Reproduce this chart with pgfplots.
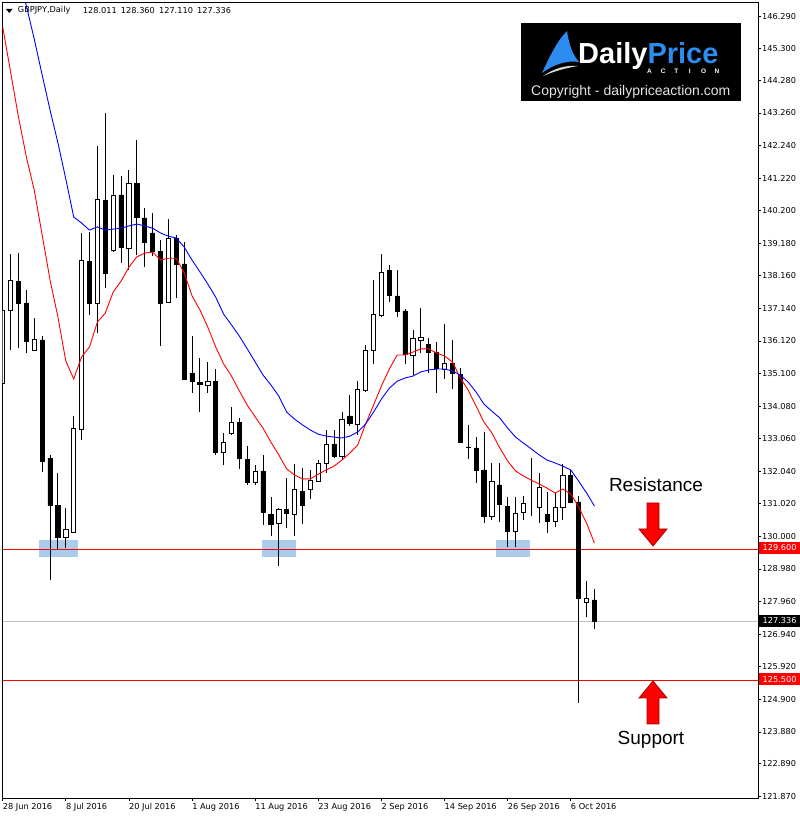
\documentclass[border=0pt]{standalone}
\usepackage{fontspec}
\setmainfont{DejaVu Sans}
\newfontfamily\lib{Liberation Sans}
\usepackage{pgfplots}
\pgfplotsset{compat=1.18}
\usepackage{pgfplotstable}

\definecolor{rectblue}{RGB}{170,204,234}
\definecolor{logoblue}{RGB}{45,140,240}
\definecolor{bidgray}{RGB}{192,192,192}
\definecolor{arrowdark}{RGB}{170,0,0}

\pgfplotstableread{
i O H L C
0 134.80 137.46 134.27 137.09
1 137.09 138.84 135.83 138.03
2 137.99 138.87 135.90 137.28
3 137.31 137.71 135.74 136.09
4 135.83 136.84 135.80 136.18
5 136.15 136.27 132.02 132.36
6 132.45 132.55 128.63 130.98
7 130.98 131.98 129.60 129.98
8 129.98 130.89 129.64 130.23
9 130.14 133.77 130.14 133.39
10 133.36 139.50 133.02 138.65
11 138.62 139.53 136.93 137.31
12 137.31 142.22 136.37 140.56
13 140.53 143.26 137.78 138.25
14 138.97 141.31 138.90 140.69
15 140.69 141.28 138.56 139.06
16 139.03 141.47 138.34 141.06
17 141.06 142.41 138.81 140.00
18 139.97 140.28 138.43 139.22
19 139.50 140.12 138.78 138.93
20 138.93 139.28 135.96 137.31
21 137.34 139.94 137.31 139.34
22 139.34 139.44 137.46 138.53
23 138.53 139.22 134.93 134.93
24 135.11 136.27 134.49 134.86
25 134.83 135.58 133.89 134.77
26 134.74 135.46 134.49 134.86
27 134.86 135.24 132.55 132.64
28 132.64 133.24 132.23 132.95
29 133.24 134.05 133.17 133.58
30 133.58 133.71 132.11 132.45
31 132.42 132.83 131.61 131.70
32 131.70 132.23 131.61 132.05
33 132.05 132.55 130.36 130.76
34 130.70 131.23 130.01 130.39
35 130.42 130.89 129.07 130.86
36 130.83 131.83 130.26 130.73
37 130.70 132.27 130.01 131.48
38 131.42 132.14 130.39 130.98
39 131.48 132.08 131.17 131.76
40 131.73 132.39 131.70 132.30
41 132.30 133.33 131.98 132.89
42 132.89 133.33 132.45 132.52
43 132.52 133.89 132.39 133.67
44 133.77 134.43 133.46 133.55
45 133.52 134.86 133.17 134.61
46 134.58 135.99 134.52 135.83
47 135.83 138.03 135.40 136.96
48 136.93 138.84 136.87 138.28
49 138.34 138.50 137.34 137.53
50 137.53 138.34 136.87 137.06
51 137.06 137.12 135.40 135.71
52 135.68 136.46 135.05 136.21
53 136.15 137.15 135.74 136.24
54 136.02 136.21 135.11 135.77
55 135.77 136.09 134.49 135.27
56 135.24 136.65 134.93 135.43
57 135.43 136.15 134.61 135.11
58 135.08 135.27 132.95 132.95
59 132.80 133.49 132.42 132.79
60 132.77 133.11 131.67 132.08
61 132.08 133.27 130.42 130.64
62 130.64 132.30 130.51 131.73
63 131.61 132.30 130.45 131.01
64 130.95 131.23 129.67 130.17
65 130.17 131.23 129.67 130.73
66 130.76 131.26 130.51 131.04
67 131.04 132.45 130.64 131.04
68 130.92 131.98 130.42 131.55
69 130.70 131.39 130.11 130.48
70 130.48 131.36 130.29 130.92
71 130.92 132.27 130.51 131.92
72 131.92 132.08 131.04 131.08
73 131.08 131.26 124.78 128.07
74 127.94 128.60 127.48 128.07
75 128.011 128.360 127.110 127.336
}\candles

\pgfplotstableread{
i R B
0 145.95 149.74
1 144.54 148.67
2 143.13 147.64
3 141.88 146.61
4 140.84 145.57
5 139.44 144.45
6 138.03 143.35
7 136.87 142.32
8 135.49 141.19
9 134.93 140.00
10 135.62 139.81
11 135.93 139.59
12 136.71 139.69
13 136.99 139.59
14 137.65 139.62
15 137.99 139.65
16 138.43 139.72
17 138.75 139.78
18 138.87 139.72
19 138.90 139.65
20 138.65 139.50
21 138.71 139.40
22 138.71 139.34
23 138.25 139.06
24 137.53 138.65
25 137.09 138.28
26 136.55 137.90
27 135.93 137.49
28 135.40 136.96
29 135.02 136.62
30 134.55 136.27
31 134.11 135.87
32 133.74 135.46
33 133.39 135.05
34 132.95 134.74
35 132.55 134.39
36 132.11 133.89
37 131.92 133.67
38 131.80 133.49
39 131.80 133.33
40 131.95 133.20
41 132.08 133.14
42 132.20 133.11
43 132.39 133.08
44 132.61 133.14
45 132.86 133.27
46 133.52 133.52
47 134.11 133.89
48 134.71 134.30
49 135.24 134.64
50 135.68 134.86
51 135.68 134.96
52 135.77 135.02
53 135.87 135.15
54 135.87 135.21
55 135.74 135.24
56 135.65 135.24
57 135.46 135.18
58 134.96 135.05
59 134.58 134.83
60 134.08 134.52
61 133.58 134.14
62 133.24 133.92
63 132.77 133.71
64 132.36 133.39
65 132.05 133.11
66 131.89 132.92
67 131.76 132.74
68 131.64 132.55
69 131.51 132.39
70 131.36 132.30
71 131.48 132.20
72 131.33 132.08
73 130.92 131.73
74 130.42 131.36
75 129.79 130.95
}\mas

\pgfplotsset{chartax/.style={scale only axis, width=755.3pt, height=795.3pt,
  xmin=0, xmax=95.73, ymin=121.81, ymax=146.71}}
\newcommand\tf{\fontsize{8.2}{9}\selectfont}

\begin{document}
\begin{tikzpicture}
\begin{axis}[chartax, name=main,
  axis line style={black, line width=0.9pt},
  xtick={0,8,...,72},
  xticklabels={28 Jun 2016, 8 Jul 2016, 20 Jul 2016, 1 Aug 2016, 11 Aug 2016, 23 Aug 2016, 2 Sep 2016, 14 Sep 2016, 26 Sep 2016, 6 Oct 2016},
  ytick={146.29,145.27,144.28,143.26,142.24,141.22,140.20,139.18,138.16,137.14,136.12,135.10,134.08,133.06,132.04,131.02,130.00,128.98,127.96,126.94,125.92,124.90,123.88,122.89,121.87},
  yticklabels={146.290,145.300,144.280,143.260,142.240,141.220,140.200,139.180,138.160,137.140,136.120,135.100,134.080,133.060,132.040,131.020,130.000,128.980,127.960,126.940,125.920,124.900,123.880,122.890,121.870},
  xtick pos=left, ytick pos=right, yticklabel pos=right,
  tick align=outside, major tick length=3pt,
  tick style={black, line width=0.7pt},
  ticklabel style={font=\tf, inner sep=0pt},
  xticklabel style={anchor=north west, yshift=-2pt},
  yticklabel style={anchor=west, xshift=1pt},
]
% support zones
\addplot[fill=rectblue, draw=none] coordinates {(4.6,129.353) (9.54,129.353) (9.54,129.886) (4.6,129.886)} -- cycle;
\addplot[fill=rectblue, draw=none] coordinates {(32.86,129.353) (37.17,129.353) (37.17,129.886) (32.86,129.886)} -- cycle;
\addplot[fill=rectblue, draw=none] coordinates {(62.52,129.353) (66.83,129.353) (66.83,129.886) (62.52,129.886)} -- cycle;
% horizontal lines
\addplot[bidgray, line width=0.8pt] coordinates {(0,127.336) (95.73,127.336)};
\addplot[red, line width=0.8pt] coordinates {(0,129.6) (95.73,129.6)};
\addplot[red, line width=0.8pt] coordinates {(0,125.5) (95.73,125.5)};
% wicks
\addplot[only marks, mark=*, mark options={draw opacity=0, fill opacity=0}, black,
  error bars/.cd, y dir=plus, y explicit, error mark=none,
  error bar style={line width=0.9pt, black}]
  table[x=i, y=L, y error expr=\thisrow{H}-\thisrow{L}] {\candles};
\end{axis}

\begin{axis}[chartax, hide axis, ybar stacked, bar width=0.53]
\addplot[draw=none, fill=none] table[x=i, y expr={min(\thisrow{O},\thisrow{C})}] {\candles};
\addplot[draw=black, fill=black, line width=0.8pt] table[x=i, y expr={(\thisrow{C}<\thisrow{O}) ? (\thisrow{O}-\thisrow{C}) : 0}] {\candles};
\addplot[draw=black, fill=white, line width=0.8pt] table[x=i, y expr={(\thisrow{C}<\thisrow{O}) ? 0 : (\thisrow{C}-\thisrow{O})}] {\candles};
\end{axis}

\begin{axis}[chartax, hide axis]
\addplot[red, line width=0.9pt, no markers] table[x=i, y=R] {\mas};
\addplot[blue, line width=0.9pt, no markers] table[x=i, y=B] {\mas};
\end{axis}

\begin{scope}[shift={(main.north west)}, xshift=-2.7pt, yshift=2.7pt, x=1pt, y=-1pt]
% price tags
\fill[red] (759,542) rectangle (800,554);
\node[white, anchor=west, inner sep=0pt, font=\tf] at (762.5,548) {129.600};
\fill[black] (759,615) rectangle (800,627);
\node[white, anchor=west, inner sep=0pt, font=\tf] at (762.5,621) {127.336};
\fill[red] (759,673.5) rectangle (800,685.5);
\node[white, anchor=west, inner sep=0pt, font=\tf] at (762.5,679.5) {125.500};
% header
\fill[black] (6,9) -- (12.5,9) -- (9.25,13) -- cycle;
\node[anchor=west, inner sep=0pt, font=\tf] at (17.7,10.5) {GBPJPY,Daily};
\node[anchor=west, inner sep=0pt, font=\tf] at (82.7,10.5) {128.011\hspace{4.2pt}128.360\hspace{4.2pt}127.110\hspace{4.2pt}127.336};
% logo
\fill[black] (521,22.7) rectangle (741,100.7);
\fill[logoblue] (542,73) .. controls (550,56) and (557,41) .. (567,31) .. controls (569,44) and (572,54) .. (579,62) .. controls (566,60) and (553,65) .. (542,73) -- cycle;
\fill[white!85!black] (543,76) .. controls (555,68) and (566,65) .. (578,66) .. controls (566,68) and (555,71) .. (543,76) -- cycle;
\node[anchor=base west, inner sep=0pt, font=\lib\bfseries\fontsize{29}{30}\selectfont] at (578,63.3) {\smash{\textcolor{white}{Daily}\textcolor{logoblue}{Price}}};
\node[white, anchor=base west, inner sep=0pt, font=\lib\bfseries\fontsize{6.5}{7}\selectfont] at (647,73.5) {A\hspace{8.9pt}C\hspace{8.9pt}T\hspace{10.5pt}I\hspace{10.5pt}O\hspace{8.5pt}N};
\node[anchor=base west, inner sep=0pt, text=white!90!black, font=\lib\fontsize{14}{16}\selectfont] at (531,95.3) {Copyright - dailypriceaction.com};
% arrows
\filldraw[fill=red, draw=arrowdark, line width=0.8pt] (647,503) -- (659,503) -- (659,529) -- (667,529) -- (653,546) -- (639,529) -- (647,529) -- cycle;
\filldraw[fill=red, draw=arrowdark, line width=0.8pt] (653,681) -- (667,698) -- (659,698) -- (659,724) -- (647,724) -- (647,698) -- (639,698) -- cycle;
\node[inner sep=0pt, font=\lib\fontsize{19}{22}\selectfont] at (656,485) {Resistance};
\node[inner sep=0pt, font=\lib\fontsize{19}{22}\selectfont] at (651,740) {Support};
\end{scope}

\pgfresetboundingbox
\path ([xshift=-2.7pt,yshift=-21pt]main.south west) rectangle ([xshift=42pt,yshift=2.7pt]main.north east);
\end{tikzpicture}
\end{document}
